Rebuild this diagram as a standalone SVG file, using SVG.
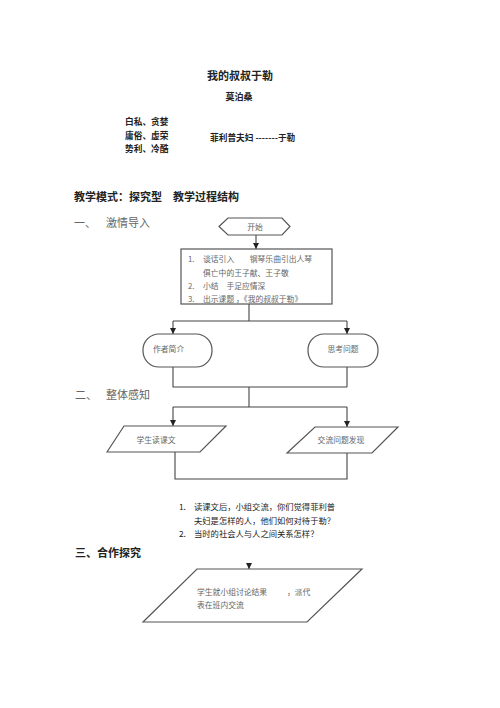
<svg xmlns="http://www.w3.org/2000/svg" width="500" height="708" viewBox="0 0 500 708">
<style>
.t{font-family:"Noto Sans CJK SC","Liberation Sans",sans-serif;fill:#222}
.b{font-weight:bold}
.h{font-family:"Noto Sans CJK SC",sans-serif;fill:#666;font-size:11px}
.f{font-family:"Noto Sans CJK SC",sans-serif;fill:#666;font-size:7.8px}
.shape{fill:#fff;stroke:#555;stroke-width:1.2}
.ln{fill:none;stroke:#444;stroke-width:1.1}
</style>
<defs>
<marker id="ah" markerUnits="userSpaceOnUse" markerWidth="6" markerHeight="6" refX="6" refY="3" orient="auto">
<path d="M0,0 L6,3 L0,6 z" fill="#222"/>
</marker>
</defs>
<rect width="500" height="708" fill="#fff"/>

<g id="header">
<text class="t b" x="240" y="80" font-size="11" text-anchor="middle">我的叔叔于勒</text>
<text class="t b" x="239" y="100" font-size="9" text-anchor="middle">莫泊桑</text>
<text class="t b" x="125" y="125" font-size="8.7">白私、贪婪</text>
<text class="t b" x="125" y="139" font-size="8.7">庸俗、虚荣</text>
<text class="t b" x="125" y="152" font-size="8.7">势利、冷酷</text>
<text class="t b" x="210" y="141" font-size="8.7">菲利普夫妇 -------于勒</text>
<text class="t b" x="74" y="201" font-size="11">教学模式：探究型　教学过程结构</text>
<text class="h" x="74" y="227">一、</text>
<text class="h" x="106" y="227">激情导入</text>
<text class="h" x="75" y="399">二、</text>
<text class="h" x="106" y="399">整体感知</text>
<text class="t b" x="75" y="557" font-size="11">三、合作探究</text>
</g>

<g id="questions">
<text class="t" x="179" y="510" font-size="8.3">1.</text>
<text class="t" x="194" y="510" font-size="8.3">读课文后，小组交流，你们觉得菲利普</text>
<text class="t" x="194" y="524" font-size="8.3">夫妇是怎样的人，他们如何对待于勒？</text>
<text class="t" x="179" y="537" font-size="8.3">2.</text>
<text class="t" x="194" y="537" font-size="8.3">当时的社会人与人之间关系怎样？</text>
</g>

<g id="connectors">
<path class="ln" d="M256,235 V249" marker-end="url(#ah)"/>
<path class="ln" d="M249,304 V321 M173,321 H347"/>
<path class="ln" d="M173,321 V334" marker-end="url(#ah)"/>
<path class="ln" d="M347,321 V334" marker-end="url(#ah)"/>
<path class="ln" d="M173,367 V387 H347 M347,367 V387 M249,387 V407 M173,407 H347"/>
<path class="ln" d="M173,407 V426" marker-end="url(#ah)"/>
<path class="ln" d="M347,407 V427" marker-end="url(#ah)"/>
<path class="ln" d="M175,452 V479 H347 V453"/>
<path class="ln" d="M249,563 V569" marker-end="url(#ah)"/>
</g>

<g id="start">
<polygon class="shape" points="219,226.5 228,218 282,218 290,226.5 282,235 228,235"/>
<text class="f" x="255" y="229.5" text-anchor="middle">开始</text>
</g>

<g id="intro">
<rect class="shape" x="181" y="249" width="151" height="55"/>
<text class="f" x="188" y="262">1.</text>
<text class="f" x="203" y="262">谈话引入　　钢琴乐曲引出人琴</text>
<text class="f" x="203" y="276">俱亡中的王子献、王子敬</text>
<text class="f" x="188" y="289">2.</text>
<text class="f" x="203" y="289">小结　手足应情深</text>
<text class="f" x="188" y="302">3.</text>
<text class="f" x="203" y="302">出示课题 ，《我的叔叔于勒》</text>
</g>

<g id="author">
<rect class="shape" x="143" y="334" width="69" height="33" rx="16" ry="16"/>
<text class="f" x="153" y="352">作者简介</text>
</g>

<g id="think">
<rect class="shape" x="308" y="334" width="70" height="33" rx="16" ry="16"/>
<text class="f" x="343" y="352" text-anchor="middle">思考问题</text>
</g>

<g id="read">
<polygon class="shape" points="107,452 124,426 226,426 200,452"/>
<text class="f" x="156" y="443" text-anchor="middle">学生读课文</text>
</g>

<g id="discuss">
<polygon class="shape" points="287,453 315,427 398,427 372,453"/>
<text class="f" x="341" y="443" text-anchor="middle">交流问题发现</text>
</g>

<g id="group">
<polygon class="shape" points="143,622 197,569 362,569 307,622"/>
<text class="f" x="197" y="595">学生就小组讨论结果</text>
<text class="f" x="287" y="595">，派代</text>
<text class="f" x="197" y="608">表在班内交流</text>
</g>
</svg>
